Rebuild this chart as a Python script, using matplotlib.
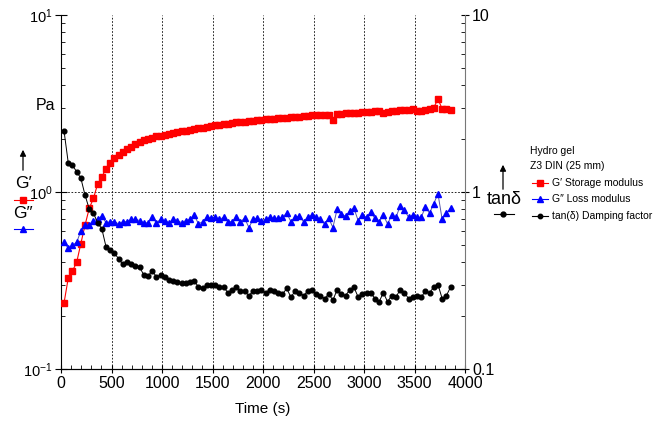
import matplotlib.pyplot as plt
from matplotlib.lines import Line2D
from matplotlib.ticker import FixedLocator, FixedFormatter, LogLocator, MultipleLocator, NullFormatter

plt.rcParams['font.family'] = ['Liberation Sans', 'DejaVu Sans']
plt.rcParams['mathtext.default'] = 'regular'

# measurement times (s)
time_s = [30, 72, 113, 155, 196, 238, 280, 321, 363, 404, 446, 488, 529, 571, 612, 654,
          696, 737, 779, 820, 862, 904, 945, 987, 1028, 1070, 1112, 1153, 1195, 1236, 1278,
          1320, 1361, 1403, 1444, 1486, 1528, 1569, 1611, 1652, 1694, 1736, 1777, 1819, 1860,
          1902, 1944, 1985, 2027, 2068, 2110, 2152, 2193, 2235, 2276, 2318, 2360, 2401, 2443,
          2484, 2526, 2568, 2609, 2651, 2692, 2734, 2776, 2817, 2859, 2900, 2942, 2984, 3025,
          3067, 3108, 3150, 3192, 3233, 3275, 3316, 3358, 3400, 3441, 3483, 3524, 3566, 3608,
          3649, 3691, 3732, 3774, 3816, 3857]

# G' storage modulus (Pa)
g_storage = [0.236, 0.327, 0.358, 0.40, 0.51, 0.65, 0.81, 0.92, 1.11, 1.22, 1.35, 1.46,
             1.55, 1.62, 1.68, 1.74, 1.80, 1.86, 1.92, 1.96, 2.00, 2.03, 2.06, 2.08, 2.10,
             2.13, 2.15, 2.18, 2.20, 2.22, 2.25, 2.27, 2.29, 2.31, 2.33, 2.36, 2.38, 2.40,
             2.42, 2.43, 2.45, 2.47, 2.48, 2.50, 2.52, 2.53, 2.54, 2.56, 2.57, 2.58, 2.60,
             2.61, 2.62, 2.63, 2.65, 2.66, 2.67, 2.68, 2.70, 2.71, 2.72, 2.72, 2.73, 2.74,
             2.55, 2.76, 2.77, 2.78, 2.79, 2.80, 2.81, 2.82, 2.83, 2.84, 2.85, 2.86, 2.80,
             2.84, 2.87, 2.88, 2.89, 2.90, 2.92, 2.93, 2.88, 2.86, 2.90, 2.95, 3.00, 3.35,
             2.95, 2.93, 2.90]

# G'' loss modulus (Pa)
g_loss = [0.52, 0.48, 0.50, 0.52, 0.60, 0.65, 0.65, 0.69, 0.70, 0.73, 0.67, 0.68, 0.68,
          0.66, 0.68, 0.68, 0.70, 0.70, 0.69, 0.67, 0.67, 0.72, 0.67,
          0.70, 0.69, 0.67, 0.70, 0.69, 0.67, 0.69, 0.70, 0.74, 0.66, 0.68, 0.72, 0.71,
          0.72, 0.70, 0.72, 0.68, 0.68, 0.72, 0.68, 0.71, 0.63, 0.70, 0.71, 0.69,
          0.70, 0.72, 0.71, 0.71, 0.72, 0.76, 0.68, 0.72, 0.73, 0.68, 0.72, 0.74, 0.72,
          0.70, 0.66, 0.71, 0.63, 0.80, 0.75, 0.73, 0.78, 0.81, 0.69, 0.74, 0.72,
          0.77, 0.71, 0.68, 0.74, 0.66, 0.74, 0.72, 0.83, 0.79, 0.72, 0.74, 0.72, 0.72,
          0.82, 0.76, 0.86, 0.98, 0.70, 0.76, 0.81]

# tan(delta) damping factor
tan_delta = [2.21, 1.46, 1.42, 1.30, 1.20, 0.96, 0.80, 0.76, 0.67, 0.62, 0.49, 0.47, 0.45,
             0.42, 0.39, 0.40, 0.39, 0.38, 0.375, 0.34, 0.335, 0.36, 0.33, 0.34,
             0.33, 0.32, 0.315, 0.31, 0.305, 0.305, 0.31, 0.315, 0.29, 0.285, 0.30, 0.30,
             0.30, 0.29, 0.29, 0.27, 0.28, 0.29, 0.275, 0.275, 0.26, 0.275, 0.275, 0.28,
             0.27, 0.28, 0.275, 0.27, 0.265, 0.285, 0.255, 0.275, 0.27, 0.26, 0.275, 0.28,
             0.265, 0.26, 0.25, 0.265, 0.245, 0.28, 0.265, 0.26, 0.28, 0.29, 0.255, 0.265,
             0.27, 0.27, 0.25, 0.24, 0.27, 0.24, 0.26, 0.255, 0.28, 0.27, 0.25, 0.255,
             0.26, 0.255, 0.275, 0.27, 0.29, 0.30, 0.25, 0.26, 0.29]

x_ticks = [0, 500, 1000, 1500, 2000, 2500, 3000, 3500, 4000]
left_labels = ['$10^{-1}$', '$10^{0}$', '$10^{1}$']
right_labels = ['0.1', '1', '10']

W, H = 660, 423
fig = plt.figure(figsize=(W / 100, H / 100), dpi=100)
ax = fig.add_axes([61 / W, 1 - 369 / H, (465 - 61) / W, (369 - 15) / H])
ax2 = ax.twinx()

RED, BLUE = '#ff0000', '#0000ff'
ax.plot(time_s, g_storage, color=RED, lw=0.8, marker='s', ms=4.4, mfc=RED, mec=RED, zorder=3)
ax.plot(time_s, g_loss, color='#5555aa', lw=0.7, marker='^', ms=5, mfc=BLUE, mec=BLUE, zorder=3)
ax2.plot(time_s, tan_delta, color='black', lw=0.7, marker='o', ms=3.4, mfc='black', mec='black')

for a in (ax, ax2):
    a.set_yscale('log')
    a.set_ylim(0.1, 10)
    a.set_xlim(0, 4000)
    a.spines['top'].set_visible(False)
    a.yaxis.set_major_locator(FixedLocator([0.1, 1, 10]))
    a.yaxis.set_minor_locator(LogLocator(base=10, subs=range(2, 10)))
    a.yaxis.set_minor_formatter(NullFormatter())

ax.yaxis.set_major_formatter(FixedFormatter(left_labels))
ax2.yaxis.set_major_formatter(FixedFormatter(right_labels))
ax.set_xticks(x_ticks)
ax.xaxis.set_minor_locator(MultipleLocator(100))

ax.tick_params(axis='x', which='major', direction='inout', length=6, width=0.8,
               labelsize=11.5, pad=2)
ax.tick_params(axis='y', which='major', direction='inout', length=8, width=0.8,
               labelsize=10.5, pad=2)
ax.tick_params(axis='both', which='minor', direction='in', length=3, width=0.6)
ax2.tick_params(axis='y', which='major', direction='inout', length=6, width=0.8,
                labelsize=11.5, pad=2)
ax2.tick_params(axis='y', which='minor', direction='in', length=3, width=0.6)
ax2.spines['right'].set_color('#777777')
ax2.spines['left'].set_visible(False)
ax.spines['right'].set_visible(False)

for xv in x_ticks[1:-1]:
    ax.axvline(xv, color='black', ls=(0, (2, 2)), lw=0.6, zorder=1)
ax.axhline(1, color='black', ls=(0, (2, 2)), lw=0.6, zorder=1)

ax.set_xlabel('Time (s)', fontsize=11, labelpad=8)

def fx(px):
    return px / W

def fy(py):
    return 1 - py / H

# left axis unit and symbols
fig.text(fx(55), fy(105), 'Pa', fontsize=11.5, ha='right', va='center')
fig.add_artist(plt.Annotation('', xy=(fx(23), fy(147)), xytext=(fx(23), fy(173)),
                              xycoords='figure fraction', textcoords='figure fraction',
                              arrowprops=dict(arrowstyle='-|>', color='black', lw=0.9,
                                              mutation_scale=9)))
fig.text(fx(23), fy(184), 'G\u2032', fontsize=12.5, ha='center', va='center')
fig.add_artist(Line2D([fx(14), fx(33)], [fy(200), fy(200)], color=RED, lw=0.8,
                      transform=fig.transFigure))
fig.add_artist(Line2D([fx(23)], [fy(200)], color=RED, marker='s', ms=4.4, ls='none',
                      transform=fig.transFigure))
fig.text(fx(23), fy(213), 'G\u2033', fontsize=12.5, ha='center', va='center')
fig.add_artist(Line2D([fx(14), fx(33)], [fy(229), fy(229)], color=BLUE, lw=0.8,
                      transform=fig.transFigure))
fig.add_artist(Line2D([fx(23)], [fy(229)], color=BLUE, marker='^', ms=4.5, ls='none',
                      transform=fig.transFigure))

# right axis symbol
fig.add_artist(plt.Annotation('', xy=(fx(503), fy(162)), xytext=(fx(503), fy(192)),
                              xycoords='figure fraction', textcoords='figure fraction',
                              arrowprops=dict(arrowstyle='-|>', color='black', lw=0.9,
                                              mutation_scale=9)))
fig.text(fx(504), fy(199), 'tan\u03b4', fontsize=13, ha='center', va='center')
fig.add_artist(Line2D([fx(494), fx(514)], [fy(214), fy(214)], color='black', lw=0.8,
                      transform=fig.transFigure))
fig.add_artist(Line2D([fx(503)], [fy(214)], color='black', marker='o', ms=3.5, ls='none',
                      transform=fig.transFigure))

# legend block
fig.text(fx(530), fy(151), 'Hydro gel', fontsize=7.5, ha='left', va='center')
fig.text(fx(530), fy(166), 'Z3 DIN (25 mm)', fontsize=7.5, ha='left', va='center')
entries = [(183, RED, 's', 4, RED, 'G\u2032 Storage modulus'),
           (199, BLUE, '^', 4, BLUE, 'G\u2033 Loss modulus'),
           (216, 'black', 'o', 3.2, 'black', 'tan(\u03b4) Damping factor')]
for py, lc, mk, ms, mc, label in entries:
    fig.add_artist(Line2D([fx(532), fx(548)], [fy(py), fy(py)], color=lc, lw=0.8,
                          transform=fig.transFigure))
    fig.add_artist(Line2D([fx(540)], [fy(py)], color=mc, marker=mk, ms=ms, ls='none',
                          transform=fig.transFigure))
    fig.text(fx(552), fy(py), label, fontsize=7.5, ha='left', va='center')

fig.savefig('out.png', dpi=100)
